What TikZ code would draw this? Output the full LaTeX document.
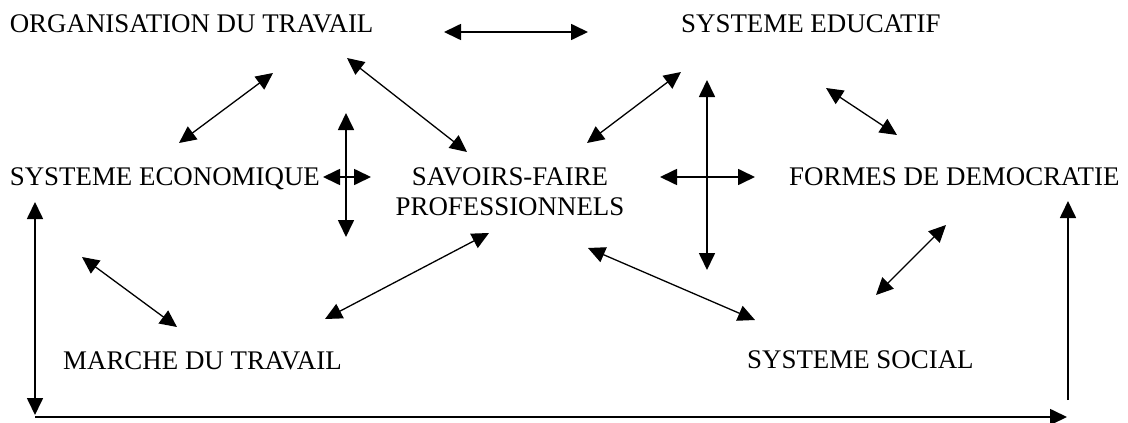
\documentclass[tikz,border=0pt]{standalone}
\usepackage{fontspec}
\setmainfont{Liberation Serif}
\usetikzlibrary{arrows.meta}

\tikzset{
  lbl/.style={anchor=base west, inner sep=0pt, font=\fontsize{26.9}{30}\selectfont},
  fl/.style={black, line width=1.7pt},
  fld/.style={black, line width=1.3pt}
}

\begin{document}
\begin{tikzpicture}[x=1pt, y=-1pt, >={Triangle[length=17pt,width=16pt]}]
\useasboundingbox (0,0) rectangle (1128,423);

\node [lbl] (org) at (9.6,32) {ORGANISATION DU TRAVAIL};
\node [lbl] (edu) at (681,32) {SYSTEME EDUCATIF};
\node [lbl] (eco) at (9.6,185) {SYSTEME ECONOMIQUE};
\node [lbl, anchor=base, align=center] (sav) at (510,215) {SAVOIRS-FAIRE\\PROFESSIONNELS};
\node [lbl] (dem) at (789,185) {FORMES DE DEMOCRATIE};
\node [lbl] (mar) at (63,369) {MARCHE DU TRAVAIL};
\node [lbl] (soc) at (747,368) {SYSTEME SOCIAL};

\coordinate (oeA) at (444,32);   \coordinate (oeB) at (588,32);
\coordinate (ocA) at (273,73);   \coordinate (ocB) at (179,143);
\coordinate (osA) at (347,58);   \coordinate (osB) at (467,152);
\coordinate (vA) at (346,113);   \coordinate (vB) at (346,237);
\coordinate (hA) at (323,177);   \coordinate (hB) at (371,177);
\coordinate (seA) at (587,143);  \coordinate (seB) at (681,72);
\coordinate (VA) at (707,80);    \coordinate (VB) at (707,270);
\coordinate (HA) at (660,177);   \coordinate (HB) at (755,177);
\coordinate (edA) at (826,88);   \coordinate (edB) at (897,135);
\coordinate (cmA) at (82,257);   \coordinate (cmB) at (177,327);
\coordinate (msA) at (325,319);  \coordinate (msB) at (489,233);
\coordinate (ssA) at (588,248);  \coordinate (ssB) at (755,320);
\coordinate (dsA) at (946,225);  \coordinate (dsB) at (876,295);
\coordinate (gA) at (35,202);    \coordinate (gB) at (35,415);
\coordinate (bA) at (35,417);    \coordinate (bB) at (1067,417);
\coordinate (dA) at (1068,400);  \coordinate (dB) at (1068,201);

\draw [fl, <->] (oeA) -- (oeB);
\draw [fld, <->] (ocA) -- (ocB);
\draw [fld, <->] (osA) -- (osB);
\draw [fl, <->] (vA) -- (vB);
\draw [fl, <->] (hA) -- (hB);
\draw [fld, <->] (seA) -- (seB);
\draw [fl, <->] (VA) -- (VB);
\draw [fl, <->] (HA) -- (HB);
\draw [fld, <->] (edA) -- (edB);
\draw [fld, <->] (cmA) -- (cmB);
\draw [fld, <->] (msA) -- (msB);
\draw [fld, <->] (ssA) -- (ssB);
\draw [fld, <->] (dsA) -- (dsB);
\draw [fl, <->] (gA) -- (gB);
\draw [fl, ->] (bA) -- (bB);
\draw [fl, ->] (dA) -- (dB);

\end{tikzpicture}
\end{document}
